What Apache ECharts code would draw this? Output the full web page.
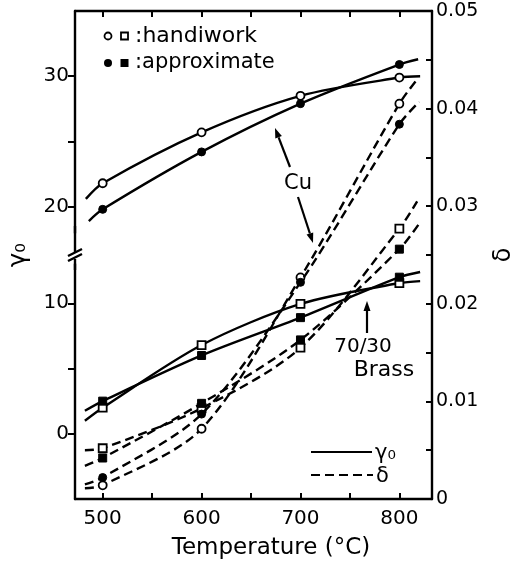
<!DOCTYPE html>
<html><head><meta charset="utf-8">
<script src="https://cdn.jsdelivr.net/npm/echarts@6/dist/echarts.min.js"></script>
<style>html,body{margin:0;padding:0;background:#fff}#c{width:516px;height:563px}</style>
</head><body><div id="c"></div>
<script>
const FONT = 'DejaVu Sans';
// temperatures where symbols are drawn
const markerTemps = [500, 600, 700, 800];
// tick / label values
const xTickValues = [500, 550, 600, 650, 700, 750, 800];
const xLabelValues = [500, 600, 700, 800];
const gammaTickValues = [0, 5, 10, 20, 25, 30];
const gammaLabelValues = [0, 10, 20, 30];
const deltaLabelValues = [0, 0.01, 0.02, 0.03, 0.04, 0.05];

// Cu, gamma0 (left axis)
const cuGammaHandT = [483, 500, 600, 700, 800, 821];
const cuGammaHandV = [20.6, 21.8, 25.7, 28.5, 29.9, 30.0];
const cuGammaApproxT = [486, 500, 600, 700, 800, 819];
const cuGammaApproxV = [18.9, 19.8, 24.2, 27.9, 30.9, 31.3];
// 70/30 brass, gamma0 (left axis)
const brassGammaHandT = [482, 500, 600, 700, 800, 821];
const brassGammaHandV = [1.0, 2.0, 6.8, 9.95, 11.55, 11.7];
const brassGammaApproxT = [482, 500, 600, 700, 800, 821];
const brassGammaApproxV = [1.76, 2.5, 6.0, 8.9, 12.0, 12.4];
// Cu, delta (right axis)
const cuDeltaHandT = [482, 500, 600, 700, 800, 818];
const cuDeltaHandV = [0.0011, 0.0014, 0.0072, 0.0227, 0.0405, 0.0430];
const cuDeltaApproxT = [482, 500, 600, 700, 800, 820];
const cuDeltaApproxV = [0.0015, 0.0022, 0.0087, 0.0222, 0.0384, 0.0407];
// 70/30 brass, delta (right axis)
const brassDeltaHandT = [482, 500, 600, 700, 800, 818];
const brassDeltaHandV = [0.0050, 0.0052, 0.0093, 0.0155, 0.0277, 0.0305];
const brassDeltaApproxT = [482, 500, 600, 700, 800, 822];
const brassDeltaApproxV = [0.0034, 0.0042, 0.0098, 0.0163, 0.0256, 0.0285];

function zip(t, v) { return t.map((x, i) => [x, v[i]]); }

function mkSeries(t, v, shape, open, dashed, yAxisIndex) {
  return {
    type: 'line',
    yAxisIndex: yAxisIndex,
    data: zip(t, v),
    smooth: 0.3,
    symbol: function (val) { return markerTemps.indexOf(val[0]) >= 0 ? shape : 'none'; },
    symbolSize: 8,
    showSymbol: true,
    z: open ? 3 : 4,
    lineStyle: { color: '#000', width: 2.4, type: dashed ? [9, 5] : 'solid' },
    itemStyle: open ? { color: '#fff', borderColor: '#000', borderWidth: 1.8 }
                    : { color: '#000', borderColor: '#000', borderWidth: 1 },
    emphasis: { disabled: true },
    silent: true
  };
}

function arrow(x1, y1, x2, y2) {
  const ang = Math.atan2(y2 - y1, x2 - x1);
  const L = 10, W = 3.5;
  const bx = x2 - L * Math.cos(ang), by = y2 - L * Math.sin(ang);
  const px = -Math.sin(ang) * W, py = Math.cos(ang) * W;
  return [
    { type: 'line', shape: { x1: x1, y1: y1, x2: bx, y2: by }, style: { stroke: '#000', lineWidth: 2.2 } },
    { type: 'polygon', shape: { points: [[x2, y2], [bx + px, by + py], [bx - px, by - py]] }, style: { fill: '#000' } }
  ];
}

const txt = { fill: '#000', fontFamily: FONT };

const graphics = [
  // top-left legend
  { type: 'circle', shape: { cx: 108, cy: 36, r: 3.5 }, style: { fill: '#fff', stroke: '#000', lineWidth: 1.8 } },
  { type: 'rect', shape: { x: 121, y: 32.5, width: 7, height: 7 }, style: { fill: '#fff', stroke: '#000', lineWidth: 1.8 } },
  { type: 'text', x: 135, y: 36, style: Object.assign({ text: ':handiwork', fontSize: 22, verticalAlign: 'middle' }, txt) },
  { type: 'circle', shape: { cx: 108, cy: 63, r: 4 }, style: { fill: '#000' } },
  { type: 'rect', shape: { x: 120.5, y: 59, width: 8, height: 8 }, style: { fill: '#000' } },
  { type: 'text', x: 135, y: 63, style: Object.assign({ text: ':approximate', fontSize: 21, verticalAlign: 'middle' }, txt) },
  // Cu label
  { type: 'text', x: 298, y: 184, style: Object.assign({ text: 'Cu', fontSize: 21, align: 'center', verticalAlign: 'middle' }, txt) },
  // Brass label
  { type: 'text', x: 363, y: 347, style: Object.assign({ text: '70/30', fontSize: 20, align: 'center', verticalAlign: 'middle' }, txt) },
  { type: 'text', x: 384, y: 370, style: Object.assign({ text: 'Brass', fontSize: 22, align: 'center', verticalAlign: 'middle' }, txt) },
  // bottom-right legend
  { type: 'line', shape: { x1: 311, y1: 452, x2: 372, y2: 452 }, style: { stroke: '#000', lineWidth: 2.2 } },
  { type: 'text', x: 375, y: 454, style: Object.assign({ text: 'γ₀', fontSize: 21, verticalAlign: 'middle' }, txt) },
  { type: 'line', shape: { x1: 311, y1: 475, x2: 373, y2: 475 }, style: { stroke: '#000', lineWidth: 2.2, lineDash: [9, 5] } },
  { type: 'text', x: 376, y: 477, style: Object.assign({ text: 'δ', fontSize: 21, verticalAlign: 'middle' }, txt) },
  // axis line through the break region, and the break mark
  { type: 'line', shape: { x1: 75, y1: 226, x2: 75, y2: 252 }, style: { stroke: '#000', lineWidth: 2.4 } },
  { type: 'line', shape: { x1: 75, y1: 259, x2: 75, y2: 270 }, style: { stroke: '#000', lineWidth: 2.4 } },
  { type: 'line', shape: { x1: 68, y1: 256, x2: 82, y2: 249 }, style: { stroke: '#000', lineWidth: 2.4 } },
  { type: 'line', shape: { x1: 68, y1: 261, x2: 82, y2: 254 }, style: { stroke: '#000', lineWidth: 2.4 } }
].concat(arrow(290, 167, 275, 128), arrow(298, 197, 313, 243), arrow(367, 333, 367, 301));

const chart = echarts.init(document.getElementById('c'), null, { renderer: 'canvas' });
chart.setOption({
  animation: false,
  backgroundColor: '#fff',
  grid: { left: 75, right: 84, top: 11, bottom: 64, containLabel: false, outerBoundsMode: 'none' },
  textStyle: { fontFamily: FONT },
  xAxis: [{
    type: 'value', min: 472, max: 833, position: 'bottom',
    axisLine: { show: true, onZero: false, lineStyle: { color: '#000', width: 2.4 } },
    axisTick: { show: true, inside: true, length: 6, lineStyle: { width: 2 }, customValues: xTickValues },
    axisLabel: { customValues: xLabelValues, fontSize: 20, color: '#000', fontFamily: FONT, margin: 10 },
    splitLine: { show: false },
    name: 'Temperature (°C)', nameLocation: 'middle', nameGap: 38,
    nameTextStyle: { fontSize: 23, color: '#000', fontFamily: FONT, padding: [0, 0, 0, 35] }
  }, {
    type: 'value', min: 472, max: 833, position: 'top',
    axisLine: { show: true, onZero: false, lineStyle: { color: '#000', width: 2.4 } },
    axisTick: { show: true, inside: true, length: 6, lineStyle: { width: 2 }, customValues: xTickValues },
    axisLabel: { show: false },
    splitLine: { show: false }
  }],
  yAxis: [{
    type: 'value', min: -5, max: 35, position: 'left',
    breaks: [{ start: 13, end: 18, gap: 2.4 }],
    breakArea: { show: false },
    axisLine: { show: true, onZero: false, lineStyle: { color: '#000', width: 2.4 } },
    axisTick: { show: true, inside: false, length: 7, lineStyle: { width: 2 }, customValues: gammaTickValues },
    axisLabel: { customValues: gammaLabelValues, fontSize: 20, color: '#000', fontFamily: FONT, margin: 6 },
    splitLine: { show: false },
    name: 'γ₀', nameLocation: 'middle', nameGap: 44, nameRotate: 90,
    nameTextStyle: { fontSize: 24, color: '#000', fontFamily: FONT }
  }, {
    type: 'value', min: 0, max: 0.05, interval: 0.005, position: 'right',
    axisLine: { show: true, onZero: false, lineStyle: { color: '#000', width: 2.4 } },
    axisTick: { show: true, inside: true, length: 6, lineStyle: { width: 2 } },
    axisLabel: {
      customValues: deltaLabelValues, fontSize: 19, color: '#000', fontFamily: FONT, margin: 4,
      formatter: function (v) { return v === 0 ? '0' : v.toFixed(2); }
    },
    splitLine: { show: false },
    name: 'δ', nameLocation: 'middle', nameGap: 60, nameRotate: 90,
    nameTextStyle: { fontSize: 24, color: '#000', fontFamily: FONT }
  }],
  series: [
    mkSeries(cuGammaHandT, cuGammaHandV, 'circle', true, false, 0),
    mkSeries(cuGammaApproxT, cuGammaApproxV, 'circle', false, false, 0),
    mkSeries(brassGammaHandT, brassGammaHandV, 'rect', true, false, 0),
    mkSeries(brassGammaApproxT, brassGammaApproxV, 'rect', false, false, 0),
    mkSeries(cuDeltaHandT, cuDeltaHandV, 'circle', true, true, 1),
    mkSeries(cuDeltaApproxT, cuDeltaApproxV, 'circle', false, true, 1),
    mkSeries(brassDeltaHandT, brassDeltaHandV, 'rect', true, true, 1),
    mkSeries(brassDeltaApproxT, brassDeltaApproxV, 'rect', false, true, 1)
  ],
  graphic: graphics
});
</script></body></html>
